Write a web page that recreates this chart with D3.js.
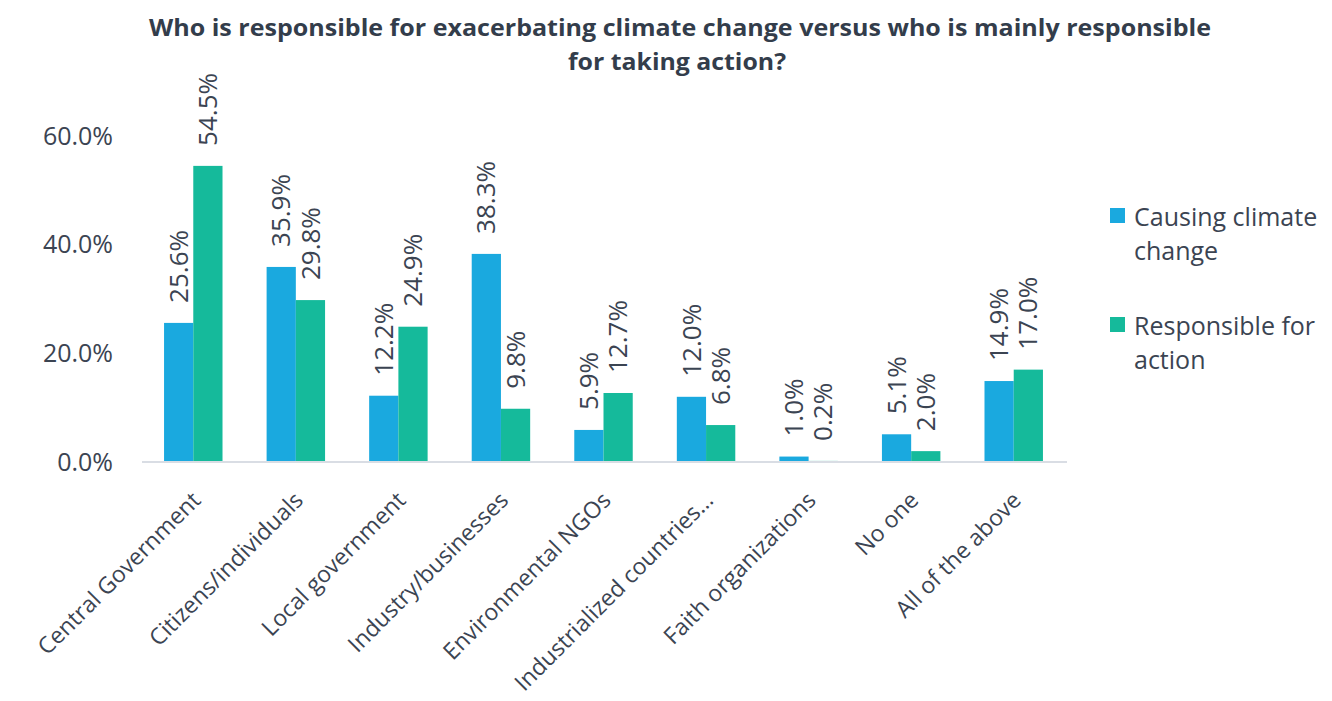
<!DOCTYPE html>
<html lang="en">
<head>
<meta charset="UTF-8">
<title>Climate responsibility</title>
<style>
  body { margin: 0; background: #fff; }
  text { font-family: "Open Sans", "Noto Sans", sans-serif; fill: #3b4452; }
  .axis .domain { stroke: #d9dde4; stroke-width: 2px; }
  .axis .tick line { display: none; }
</style>
</head>
<body>
<script src="https://d3js.org/d3.v7.min.js"></script>
<script>
// data
var categories = ["Central Government", "Citizens/individuals", "Local government",
  "Industry/businesses", "Environmental NGOs", "Industrialized countries\u2026",
  "Faith organizations", "No one", "All of the above"];
var causing = [25.6, 35.9, 12.2, 38.3, 5.9, 12.0, 1.0, 5.1, 14.9];
var responsible = [54.5, 29.8, 24.9, 9.8, 12.7, 6.8, 0.2, 2.0, 17.0];
var seriesNames = ["Causing climate change", "Responsible for action"];
var yTicks = [0, 20, 40, 60];

var W = 1332, H = 701;
var margin = { top: 136, left: 142, right: 267, bottom: 239 };
var width = W - margin.left - margin.right,
    height = H - margin.top - margin.bottom;
var colors = ["#1aa9df", "#15ba9b"];

var svg = d3.select("body").append("svg")
  .attr("width", W).attr("height", H);

// title
var title = svg.append("text")
  .attr("text-anchor", "middle")
  .style("font-size", "23px").style("font-weight", "bold")
  .style("fill", "#333d4b");
title.append("tspan").attr("x", 680).attr("y", 36)
  .attr("textLength", 1062).attr("lengthAdjust", "spacingAndGlyphs")
  .text("Who is responsible for exacerbating climate change versus who is mainly responsible");
title.append("tspan").attr("x", 677).attr("y", 70)
  .attr("textLength", 218).attr("lengthAdjust", "spacingAndGlyphs")
  .text("for taking action?");

var g = svg.append("g")
  .attr("transform", "translate(" + margin.left + "," + margin.top + ")");

var x = d3.scaleBand().domain(categories).range([0, width]).paddingInner(0.43).paddingOuter(0.215);
var x1 = d3.scaleBand().domain([0, 1]).range([0, x.bandwidth()]);
var y = d3.scaleLinear().domain([0, 60]).range([height, 0]);

// y axis labels
g.append("g")
  .attr("class", "axis")
  .call(d3.axisLeft(y).tickValues(yTicks).tickSize(0).tickPadding(29)
    .tickFormat(function (d) { return d.toFixed(1) + "%"; }))
  .call(function (s) { s.select(".domain").remove(); })
  .selectAll("text")
  .style("font-size", "25px").style("fill", "#3b4452");

// bars
var rows = categories.map(function (c, i) { return { cat: c, vals: [causing[i], responsible[i]] }; });
var grp = g.selectAll(".grp").data(rows).enter().append("g")
  .attr("transform", function (d) { return "translate(" + x(d.cat) + ",0)"; });

grp.selectAll("rect").data(function (d) { return d.vals; }).enter().append("rect")
  .attr("x", function (d, i) { return x1(i); })
  .attr("y", function (d) { return y(d); })
  .attr("width", x1.bandwidth())
  .attr("height", function (d) { return height - y(d); })
  .attr("fill", function (d, i) { return colors[i]; });

// data labels
grp.selectAll(".lbl").data(function (d) { return d.vals; }).enter().append("text")
  .attr("class", "lbl")
  .attr("transform", function (d, i) {
    return "translate(" + (x1(i) + x1.bandwidth() / 2) + "," + (y(d) - 20) + ") rotate(-90)";
  })
  .attr("dy", "0.35em")
  .style("font-size", "26px")
  .text(function (d) { return d.toFixed(1) + "%"; });

// x axis
var xAxis = g.append("g")
  .attr("class", "axis")
  .attr("transform", "translate(0," + height + ")")
  .call(d3.axisBottom(x).tickSize(0).tickSizeOuter(0).tickFormat(""));
xAxis.select(".domain").attr("d", "M0,0H" + (width + 2));

g.selectAll(".cat").data(categories).enter().append("text")
  .attr("class", "cat")
  .attr("text-anchor", "end")
  .attr("transform", function (d) {
    return "translate(" + (x(d) + x.bandwidth() / 2 + 3) + "," + (height + 34) + ") rotate(-45)";
  })
  .attr("dy", "0.35em")
  .style("font-size", "23px")
  .text(function (d) { return d; });

// legend
var legendLines = [["Causing climate", "change"], ["Responsible for", "action"]];
var leg = svg.selectAll(".leg").data(seriesNames).enter().append("g")
  .attr("transform", function (d, i) { return "translate(1110," + (208 + i * 109) + ")"; });
leg.append("rect").attr("width", 15).attr("height", 15)
  .attr("fill", function (d, i) { return colors[i]; });
leg.append("text")
  .style("font-size", "25px")
  .each(function (d, i) {
    var t = d3.select(this);
    legendLines[i].forEach(function (line, j) {
      t.append("tspan").attr("x", 24).attr("y", 18 + j * 34).text(line);
    });
  });
</script>
</body>
</html>
